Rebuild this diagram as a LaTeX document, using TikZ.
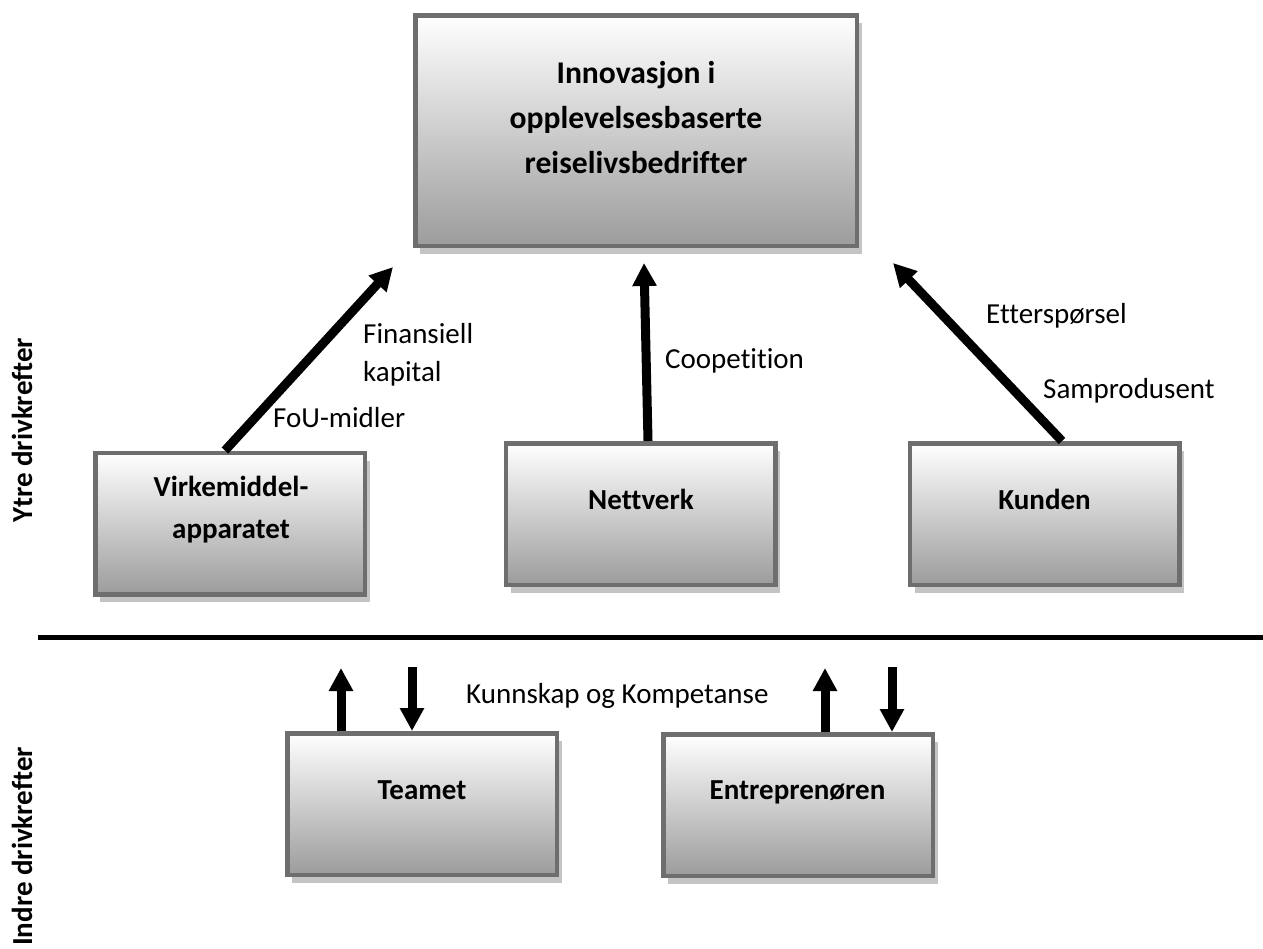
\documentclass[tikz,border=0pt]{standalone}
\usepackage{fontspec}
\setmainfont{Carlito}[Ligatures=CommonOff]
\usetikzlibrary{arrows.meta,shadows}
\definecolor{bordergray}{HTML}{6E6E6E}
\definecolor{shadebot}{HTML}{9C9C9C}
\definecolor{shadowgray}{HTML}{C4C4C4}
\begin{document}
\begin{tikzpicture}[x=1pt,y=-1pt,
  box/.style={draw=bordergray, line width=4.5pt, top color=white, bottom color=shadebot,
    drop shadow={shadow xshift=5pt, shadow yshift=-8pt, fill=shadowgray, opacity=1}, inner sep=0pt},
  smallbox/.style={box, minimum width=269.5pt, minimum height=141.5pt},
  boxtext/.style={font=\fontsize{29}{42}\bfseries\selectfont, anchor=base, inner sep=0pt},
  toptext/.style={font=\fontsize{31.6}{45}\bfseries\selectfont, anchor=base, inner sep=0pt},
  lbl/.style={font=\fontsize{29}{36}\selectfont, anchor=base west, inner sep=0pt},
  bigarrow/.style={line width=9pt, -{Triangle[length=23pt,width=23pt]}},
  sidetext/.style={font=\fontsize{29}{35}\bfseries\selectfont, rotate=90, inner sep=0pt}
]
\useasboundingbox (0,0) rectangle (1263,948);

% boxes
\node[box, minimum width=441.5pt, minimum height=230.5pt] (top) at (636,130.5) {};
\node[smallbox] (virk) at (230,523.5) {};
\node[smallbox] (nett) at (640.5,514) {};
\node[smallbox] (kund) at (1044.5,514) {};
\node[smallbox] (team) at (422,804) {};
\node[smallbox] (entr) at (798,805) {};

% box texts
\node[toptext] (t1) at (636,83) {Innovasjon i};
\node[toptext] (t2) at (636,128) {opplevelsesbaserte};
\node[toptext] (t3) at (636,173) {reiselivsbedrifter};
\node[boxtext] (v1) at (231,496) {Virkemiddel-};
\node[boxtext] (v2) at (231,538) {apparatet};
\node[boxtext] (nt) at (641,509) {Nettverk};
\node[boxtext] (kt) at (1044.5,509) {Kunden};
\node[boxtext] (tt) at (422,799) {Teamet};
\node[boxtext] (et) at (797.5,799) {Entreprenøren};

% arrow tips
\coordinate (tipL) at (393,267);
\coordinate (tipM) at (644,263);
\coordinate (tipR) at (893,263);

\draw[bigarrow] ([xshift=-5pt]virk.north) -- (tipL);
\draw[bigarrow] ([xshift=7.5pt]nett.north) -- (tipM);
\draw[bigarrow] ([xshift=17.5pt]kund.north) -- (tipR);

\coordinate (tu) at (341,668);
\coordinate (td) at (412,667);
\coordinate (eu) at (825,668);
\coordinate (ed) at (892,667);
\draw[bigarrow] (team.north -| tu) -- (tu);
\draw[bigarrow] (td) -- (team.north -| td);
\draw[bigarrow] (entr.north -| eu) -- (eu);
\draw[bigarrow] (ed) -- (entr.north -| ed);

% labels
\node[lbl] (fin) at (363,343) {Finansiell};
\node[lbl] (kap) at (363,381) {kapital};
\node[lbl] (fou) at (273,427) {FoU-midler};
\node[lbl] (coo) at (665,368) {Coopetition};
\node[lbl] (ett) at (986,323) {Etterspørsel};
\node[lbl] (sam) at (1043,398) {Samprodusent};
\node[lbl] (kk) at (466,703) {Kunnskap og Kompetanse};

% separator
\coordinate (hl1) at (38,637);
\coordinate (hl2) at (1263,637);
\draw[line width=5pt] (hl1) -- (hl2);

% side texts
\node[sidetext] (ytre) at (22,430) {Ytre drivkrefter};
\node[sidetext, anchor=west] (indre) at (22,946) {Indre drivkrefter};
\end{tikzpicture}
\end{document}
